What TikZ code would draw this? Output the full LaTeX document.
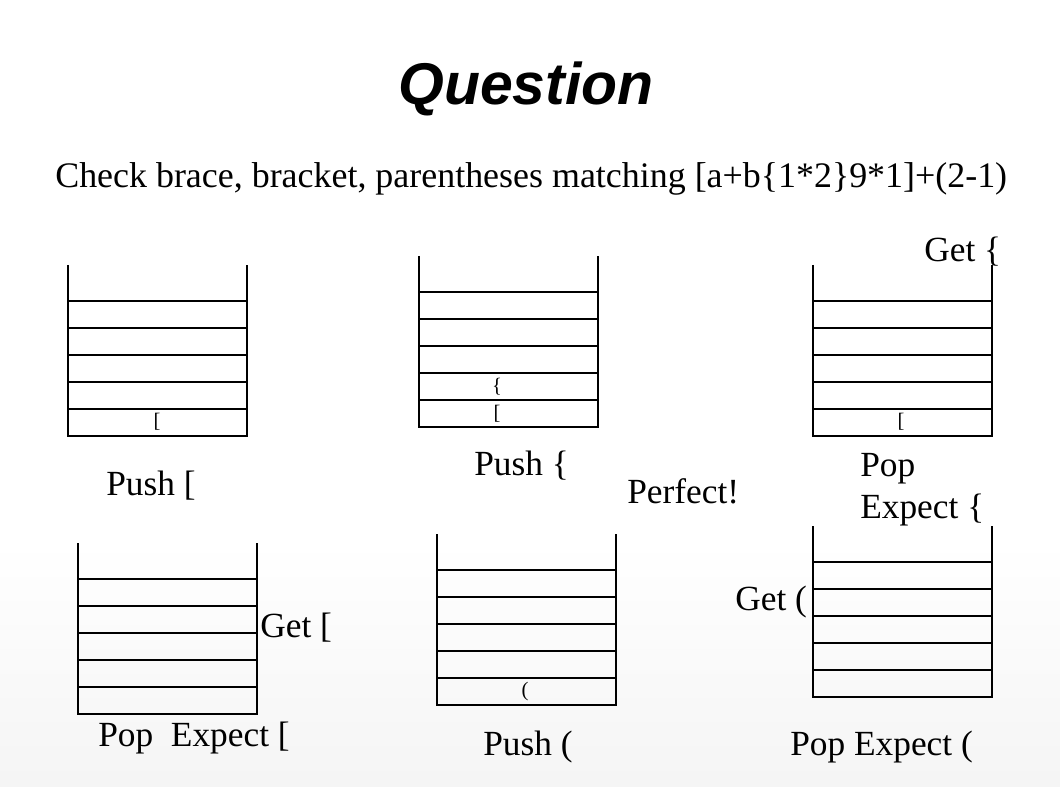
\documentclass[tikz,border=0pt]{standalone}
\usepackage{fontspec}
\setmainfont{Liberation Serif}
\newfontfamily\titlefont{Liberation Sans}
\begin{document}
\begin{tikzpicture}[x=0.6792pt,y=-0.6792pt,
  lbl/.style={font=\fontsize{24}{28.5}\selectfont,inner sep=0pt,anchor=base west,align=left},
  cell/.style={font=\fontsize{14}{16}\selectfont,inner sep=0pt},
  wall/.style={line width=0.7pt}]
\useasboundingbox (0,0) rectangle (1060,787);
\shade[top color=white,bottom color=black!4] (0,540) rectangle (1060,787);
% heading
\node[font=\titlefont\bfseries\itshape\fontsize{40}{48}\selectfont,anchor=base,inner sep=0pt] (title) at (526,105) {Question};
\node[lbl,font=\fontsize{24.4}{28}\selectfont] (task) at (55,188) {Check brace, bracket, parentheses matching [a+b\{1*2\}9*1]+(2-1)};
% stacks: left x / top y
\foreach \x/\y in {68/265,419/256,813/265,78/543,437/534,813/526}{
  \draw[wall] (\x,\y) -- ++(0,171) -- ++(179,0) -- ++(0,-171);
  \foreach \k in {1,...,5} \draw[wall] (\x,\y+9+27*\k) -- ++(179,0);
}
% stack contents
\node[cell] (c1) at (157,422) {[};
\node[cell] (c2a) at (497,387) {\{};
\node[cell] (c2b) at (497,414) {[};
\node[cell] (c3) at (901,422) {[};
\node[cell] (c5) at (525,692) {(};
% labels
\node[lbl] (push1) at (106,495) {Push [};
\node[lbl] (push2) at (474,475) {Push \{};
\node[lbl] (perfect) at (627,503) {Perfect!};
\node[lbl] (pop3) at (860,518) {Pop\\Expect \{};
\node[lbl] (get3) at (924,262) {Get \{};
\node[lbl] (get4) at (260,637) {Get [};
\node[lbl] (pop4) at (98,746) {Pop\ \ Expect [};
\node[lbl] (push5) at (483,755) {Push (};
\node[lbl] (get6) at (735,610) {Get (};
\node[lbl] (pop6) at (790,755) {Pop Expect (};
\end{tikzpicture}
\end{document}
